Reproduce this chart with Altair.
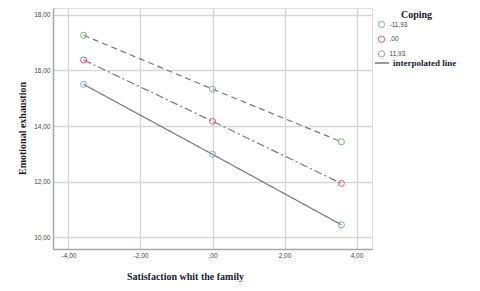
import altair as alt
import pandas as pd

satisfaction = [-3.58, 0.0, 3.58]
coping_levels = ["-11,93", ",00", "11,93"]
exhaustion_low = [15.50, 12.98, 10.44]
exhaustion_mid = [16.38, 14.17, 11.93]
exhaustion_high = [17.27, 15.33, 13.43]
x_ticks = [-4, -2, 0, 2, 4]
y_ticks = [10, 12, 14, 16, 18]
point_colors = ["#7aa6e8", "#e8566f", "#72b970"]
dash_styles = [[1, 0], [8, 3, 2, 3], [6, 4]]

rows = []
for lvl, ys in zip(coping_levels, [exhaustion_low, exhaustion_mid, exhaustion_high]):
    for x, y in zip(satisfaction, ys):
        rows.append({"x": x, "y": y, "Coping": lvl, "kind": "interpolated line"})
df = pd.DataFrame(rows)

label_expr = ("datum.value == 0 ? ',00' : "
              "replace(replace(format(datum.value, '.2f'), '.', ','), '\u2212', '-')")

dark = "#1a1a33"
common_axis = dict(
    labelExpr=label_expr,
    labelFont="Liberation Sans", labelFontSize=6.5, labelColor="#444444",
    labelPadding=3, ticks=False,
    domainColor="#a6a6a6", domainWidth=1.5,
    gridColor="#d6d6d6", gridWidth=1.3,
    titleFont="Liberation Serif", titleFontSize=10, titleFontWeight="bold",
    titleColor=dark, titleBaseline="alphabetic", titleAlign="center",
)

xscale = alt.Scale(domain=[-4.43, 4.43], nice=False, zero=False)
yscale = alt.Scale(domain=[9.568, 18.252], nice=False, zero=False)

xaxis = alt.Axis(values=x_ticks, title="Satisfaction whit the family",
                 titleX=132, titleY=30, **common_axis)
yaxis = alt.Axis(values=y_ticks, title="Emotional exhaustion",
                 titleX=-28, titleY=120, titleAngle=270, **common_axis)

lines = alt.Chart(df).mark_line(strokeWidth=1.2, color="#777777").encode(
    x=alt.X("x:Q", scale=xscale, axis=xaxis),
    y=alt.Y("y:Q", scale=yscale, axis=yaxis),
    detail="Coping:N",
    strokeDash=alt.StrokeDash("Coping:N",
                              scale=alt.Scale(domain=coping_levels, range=dash_styles),
                              legend=None),
    color=alt.Color("kind:N",
                    scale=alt.Scale(domain=["interpolated line"], range=["#777777"]),
                    legend=alt.Legend(title=None, orient="none", legendX=321, legendY=47,
                                      symbolType="stroke", symbolSize=196,
                                      symbolStrokeWidth=1.5,
                                      labelFont="Liberation Serif", labelFontWeight="bold",
                                      labelFontSize=9, labelColor=dark, labelOffset=3)),
)

points = alt.Chart(df).mark_point(shape="circle", filled=False, size=36,
                                  strokeWidth=1, opacity=1).encode(
    x=alt.X("x:Q", scale=xscale),
    y=alt.Y("y:Q", scale=yscale),
    color=alt.Color("Coping:N",
                    scale=alt.Scale(domain=coping_levels, range=point_colors),
                    legend=alt.Legend(title=None, orient="none", legendX=324.5, legendY=12.5,
                                      symbolType="circle", symbolSize=40,
                                      symbolStrokeWidth=1,
                                      labelFont="Liberation Sans", labelFontSize=6.5,
                                      labelColor="#444444", rowPadding=2.7,
                                      labelOffset=4)),
)

chart = alt.layer(lines, points).resolve_scale(color="independent").properties(
    width=319, height=241,
    padding={"left": 45, "top": 0, "right": 100, "bottom": 42},
    autosize=alt.AutoSizeParams(type="none"),
    title=alt.Title("Coping", anchor="start", align="left", dx=348, dy=20, offset=0,
                    baseline="alphabetic", font="Liberation Serif", fontSize=10,
                    fontWeight="bold", color=dark, frame="group"),
).configure_view(stroke=None).configure(background="white")

chart.save("out.html", embed_options={"renderer": "svg", "actions": False})
